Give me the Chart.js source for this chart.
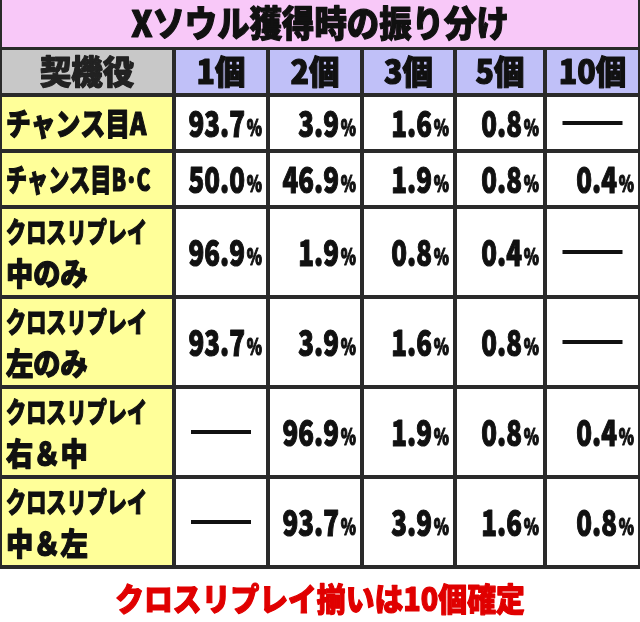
<!DOCTYPE html>
<html><head><meta charset="utf-8">
<script src="https://cdn.jsdelivr.net/npm/chart.js@4"></script>
<style>html,body{margin:0;padding:0;background:#fff}</style>
</head><body>
<canvas id="c" width="640" height="622"></canvas>
<script>
const title = "Xソウル獲得時の振り分け";
const footer = "クロスリプレイ揃いは10個確定";
const headerLabel = "契機役";
const columns = ["1個","2個","3個","5個","10個"];
const rowLabels = [["チャンス目A"],["チャンス目B･C"],["クロスリプレイ","中のみ"],["クロスリプレイ","左のみ"],["クロスリプレイ","右＆中"],["クロスリプレイ","中＆左"]];
const values = [
  [93.7,3.9,1.6,0.8,null],
  [50.0,46.9,1.9,0.8,0.4],
  [96.9,1.9,0.8,0.4,null],
  [93.7,3.9,1.6,0.8,null],
  [null,96.9,1.9,0.8,0.4],
  [null,93.7,3.9,1.6,0.8]
];
// layout (pixel-space of the hidden linear axes)
const colEdges = [0,174,268,362,455,545,640];
const rowEdges = [48,95,151,207,297,387,477,567];
const FONT = '"Noto Sans CJK JP"';

function cond(ctx, text, x, y, size, sx, align, color){
  ctx.save();
  ctx.font = `900 ${size}px ${FONT}`;
  ctx.fillStyle = color||'#111';
  ctx.strokeStyle = color||'#111';
  ctx.lineWidth = 1.2; ctx.lineJoin='round';
  ctx.textBaseline='middle';
  ctx.translate(x,y); ctx.scale(sx,1);
  ctx.textAlign=align||'center';
  ctx.fillText(text,0,0);
  ctx.strokeText(text,0,0);
  ctx.restore();
}
const tablePlugin = {
  id:'table',
  afterDraw(chart){
    const ctx=chart.ctx, X=chart.scales.x, Y=chart.scales.y;
    const px=v=>X.getPixelForValue(v), py=v=>Y.getPixelForValue(v);
    ctx.save();
    ctx.fillStyle='#fff';ctx.fillRect(0,0,640,622);
    ctx.fillStyle='#2a2a2a';
    ctx.fillRect(px(0),py(0),px(640)-px(0),py(rowEdges[rowEdges.length-1]+2)-py(0));
    function cell(c0,c1,r0,r1,color){
      ctx.fillStyle=color;
      ctx.fillRect(px(c0)+2,py(r0)+2,px(c1)-px(c0)-4,py(r1)-py(r0)-4);
    }
    cell(0,640,-2,rowEdges[0]+1,'#f8c8f8');
    cond(ctx,title,px(320),py(23),36,0.9);
    cell(colEdges[0],colEdges[1],rowEdges[0],rowEdges[1],'#c8c8c8');
    cond(ctx,headerLabel,(px(colEdges[0])+px(colEdges[1]))/2,py(71),33,0.95,'center','#222');
    columns.forEach((h,i)=>{
      cell(colEdges[i+1],colEdges[i+2],rowEdges[0],rowEdges[1],'#c0c0f8');
      cond(ctx,h,(px(colEdges[i+1])+px(colEdges[i+2]))/2,py(71),33,0.92);
    });
    rowLabels.forEach((lab,r)=>{
      const y0=rowEdges[r+1], y1=rowEdges[r+2], cy=(py(y0)+py(y1))/2;
      cell(colEdges[0],colEdges[1],y0,y1,'#ffff99');
      if(lab.length===1){
        cond(ctx,lab[0],px(6),cy,31,lab[0].length>6?0.68:0.8,'left');
      } else {
        cond(ctx,lab[0],px(6),cy-20,28,0.72,'left');
        cond(ctx,lab[1],px(6),cy+21,31,0.88,'left');
      }
      values[r].forEach((v,i)=>{
        const c0=colEdges[i+1], c1=colEdges[i+2];
        cell(c0,c1,y0,y1,'#ffffff');
        const right=px(c1)-6;
        if(v===null){
          ctx.fillStyle='#111';
          const cx=(px(c0)+px(c1))/2;
          ctx.fillRect(cx-30,cy-2,60,4);
        } else {
          cond(ctx,'%',right,cy+5,22,0.7,'right');
          cond(ctx,v.toFixed(1),right-17,cy,36,0.72,'right');
        }
      });
    });
    cond(ctx,footer,px(320),py(599),32,0.9,'center','#e00000');
    ctx.restore();
  }
};
new Chart(document.getElementById('c'),{
  type:'scatter',
  data:{datasets:[{data:[],pointRadius:0}]},
  options:{responsive:false,animation:false,
    layout:{padding:0},
    plugins:{legend:{display:false},tooltip:{enabled:false}},
    scales:{x:{type:'linear',min:0,max:640,display:false},
            y:{type:'linear',min:0,max:622,reverse:true,display:false}}},
  plugins:[tablePlugin]
});
</script>
</body></html>
